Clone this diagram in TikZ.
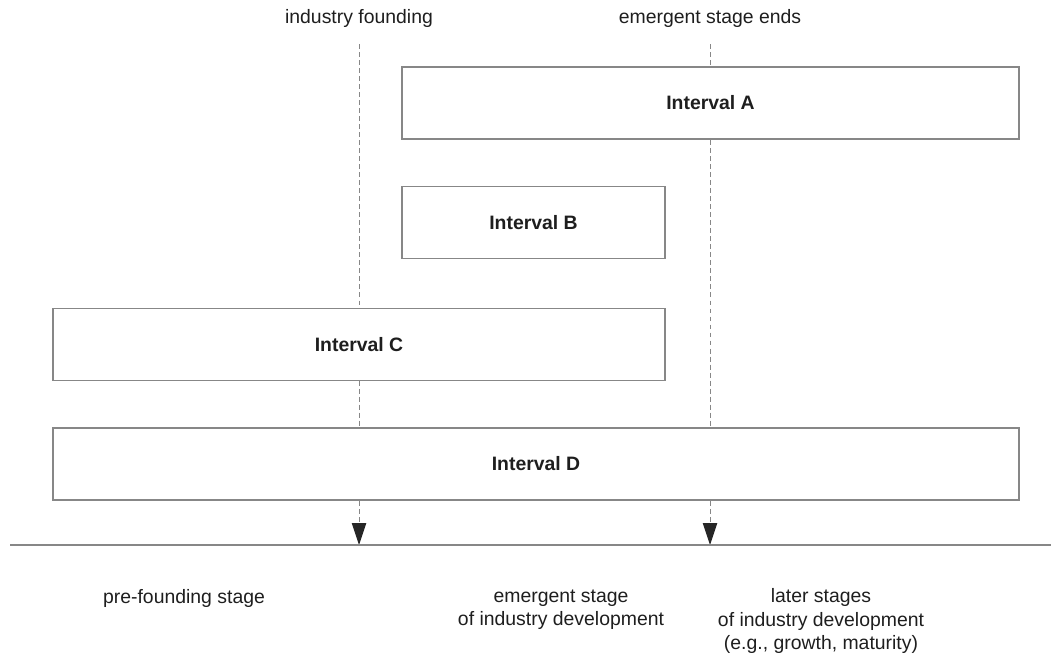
\documentclass[tikz,border=0pt]{standalone}
\usepackage{fontspec}
\setmainfont{Liberation Sans}
\usetikzlibrary{arrows.meta}
\definecolor{rulegray}{RGB}{135,135,135}
\definecolor{inkdark}{RGB}{30,30,30}
\begin{document}
\begin{tikzpicture}[x=0.025cm, y=-0.025cm, every node/.style={font=\fontsize{13.8}{16.4}\selectfont, text=inkdark}]
    \tikzstyle{ivbox}=[draw=rulegray, line width=1.1pt, fill=white, inner sep=0pt, outer sep=0pt, minimum height=1.8cm, font=\fontsize{13.8}{16.4}\selectfont\bfseries]
    \tikzstyle{stagedash}=[rulegray, line width=0.7pt, dash pattern=on 3.5pt off 2.2pt]
    \tikzstyle{marrs}=[-{Triangle[length=0.55cm, width=0.36cm, color=black!85]}]
    \useasboundingbox (0,0) rectangle (1051,660);

    % stage boundaries
    \node (found) at (359,18) {industry founding};
    \node (ends) at (710,18) {emergent stage ends};
    \coordinate (foundtop) at (359,44);
    \coordinate (endstop) at (710,44);
    \coordinate (foundax) at (359,545);
    \coordinate (endsax) at (710,545);
    \draw[stagedash, marrs] (foundtop) -- (foundax);
    \draw[stagedash, marrs] (endstop) -- (endsax);

    % intervals
    \foreach \n/\x/\y/\w in {A/710.5/103/617, B/533.5/222.5/263, C/359/344.5/612, D/536/464/966} {
        \node[ivbox, minimum width=\w*0.025cm] (iv\n) at (\x,\y) {Interval \n};
    }

    % time axis
    \coordinate (axl) at (10,545);
    \coordinate (axr) at (1051,545);
    \draw[rulegray, line width=1.1pt] (axl) -- (axr);

    { \fontsize{13.8}{23}\selectfont
        \node[align=center] (pre) at (184,598) {pre-founding stage};
        \node[align=center] (emer) at (561,609.5) {emergent stage\\of industry development};
        \node[align=center] (later) at (821,621) {later stages\\of industry development\\(e.g., growth, maturity)};
    }
\end{tikzpicture}
\end{document}
